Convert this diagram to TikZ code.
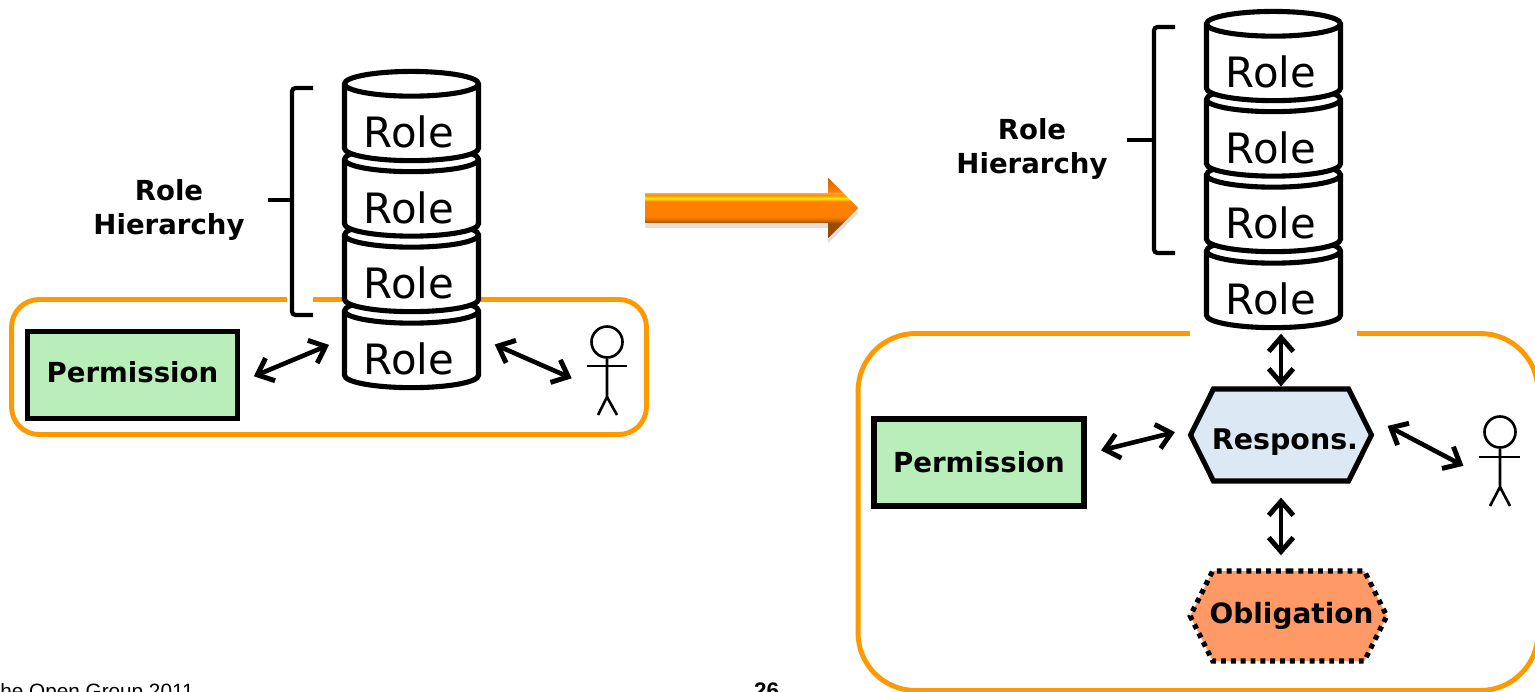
\documentclass[tikz,border=0pt]{standalone}
\usepackage{xcolor}
\usepackage{fontspec}
\setmainfont{DejaVu Sans}
\newfontfamily\footfont{Liberation Sans}
\usetikzlibrary{shapes.geometric, shapes.symbols, shapes.arrows, shadows, arrows.meta}
\definecolor{frameorange}{HTML}{FF9900}
\definecolor{permgreen}{HTML}{B9EDB9}
\definecolor{dutyblue}{HTML}{DCE8F3}
\definecolor{obligorange}{HTML}{FF9966}
\pgfdeclareverticalshading{goldbar}{100bp}{
 color(0bp)=(orange!60!black);
 color(25bp)=(orange!60!black);
 color(37.5bp)=(orange!60!black);
 color(40bp)=(orange!85!black);
 color(43bp)=(orange);
 color(55.5bp)=(orange);
 color(58bp)=(yellow!85!orange);
 color(60.5bp)=(orange!90!yellow);
 color(62.5bp)=(orange!70!white);
 color(63.5bp)=(orange);
 color(75bp)=(orange!80!black);
 color(100bp)=(orange!80!black)}
\tikzset{
 role/.style={draw, fill=white, line width=2.9pt, cylinder, shape border rotate=90, shape aspect=0.26,
  minimum width=2.68cm, minimum height=1.7cm, inner sep=0pt, text height=0.98cm,
  execute at end node=\kern0.1cm, font=\fontsize{23.8}{27}\selectfont},
 perm/.style={draw, fill=permgreen, line width=3pt, minimum width=4.2cm, minimum height=1.74cm, inner sep=0pt, font=\fontsize{15.7}{18}\selectfont\bfseries},
 duty/.style={draw, fill=dutyblue, line width=2.9pt, signal, signal to=west and east, signal pointer angle=127,
  minimum height=1.84cm, inner ysep=0pt, inner xsep=-0.19cm, text height=0.68cm,
  execute at begin node=\kern0.16cm, font=\fontsize{16.2}{18}\selectfont\bfseries},
 oblig/.style={draw, fill=obligorange, line width=2.9pt, dash pattern=on 2.8pt off 2.8pt, signal, signal to=west and east, signal pointer angle=127,
  minimum height=1.8cm, inner ysep=0pt, inner xsep=-0.18cm,
  execute at begin node=\kern0.12cm, font=\fontsize{15.9}{18}\selectfont\bfseries},
 frame/.style={draw=frameorange, line width=2.8pt, rectangle, inner sep=0pt},
 caption/.style={align=center, font=\fontsize{15.7}{18.8}\selectfont\bfseries},
 curly/.style={line width=2.4pt, rounded corners=2pt},
 link/.style={{Straight Barb[length=8pt,width=14pt,line width=2.8pt]}-{Straight Barb[length=8pt,width=14pt,line width=2.8pt]}, line width=2.6pt},
 stick/.style={line width=1.5pt},
 head/.style={draw, circle, line width=1.5pt, minimum size=0.62cm, inner sep=0pt}
}

\begin{document}
\begin{tikzpicture}[x=0.02cm, y=-0.02cm]
 \clip[use as bounding box] (0,0) rectangle (1535,692);

 \node[frame, minimum width=12.7cm, minimum height=2.7cm, rounded corners=0.55cm] (frameA) at (329,367) {};
 \node[frame, minimum width=13.6cm, minimum height=7.14cm, rounded corners=1.15cm] (frameB) at (1198,512) {};
 \fill[white] (287,290) rectangle (313,310);
 \fill[white] (1190,322) rectangle (1357,342);

 \node[role] (roleD) at (411.5,350.5) {Role};
 \node[role] (roleC) at (411.5,274.5) {Role};
 \node[role] (roleB) at (411.5,199) {Role};
 \node[role] (roleA) at (411.5,123.5) {Role};

 \node[role] (roleH) at (1273.5,290.5) {Role};
 \node[role] (roleG) at (1273.5,214.5) {Role};
 \node[role] (roleF) at (1273.5,139) {Role};
 \node[role] (roleE) at (1273.5,63.5) {Role};

 \node[caption] (captionA) at (169,210) {Role\\Hierarchy};
 \node[caption] (captionB) at (1032,149) {Role\\Hierarchy};

 \coordinate (braceAtop) at (313,88);
 \coordinate (braceAmid) at (292,200);
 \coordinate (braceAtip) at (268,200);
 \coordinate (braceAbot) at (313,315);
 \coordinate (braceBtop) at (1175,27);
 \coordinate (braceBmid) at (1154,140);
 \coordinate (braceBtip) at (1127,140);
 \coordinate (braceBbot) at (1175,253);
 \draw[curly] (braceAtop) -- (292,88) -- (292,315) -- (braceAbot);
 \draw[curly] (braceAtip) -- (braceAmid);
 \draw[curly] (braceBtop) -- (1154,27) -- (1154,253) -- (braceBbot);
 \draw[curly] (braceBtip) -- (braceBmid);

 \node[perm, text depth=0.12cm] (permA) at (132.5,375) {Permission};
 \node[perm] (permB) at (979,462.5) {Permission};
 \node[duty] (respons) at (1281,435) {Respons.};
 \node[oblig] (obligation) at (1288.5,616) {Obligation};

 \node[head] (headA) at (607,342) {};
 \draw[stick] (headA.south) -- (607,397) -- (598,415);
 \draw[stick] (607,397) -- (617,415);
 \draw[stick] (587,366) -- (627,366);

 \node[head] (headB) at (1500,432) {};
 \draw[stick] (headB.south) -- (1500,487) -- (1490,506);
 \draw[stick] (1500,487) -- (1510,506);
 \draw[stick] (1479,457) -- (1520,457);

 \coordinate (actorA) at (587,385);
 \coordinate (actorB) at (1479,474);
 \draw[link, shorten <=8.5pt, shorten >=8pt] ([yshift=-0.14cm]permA.east) -- ([yshift=0.22cm]roleD.west);
 \draw[link, shorten <=8.5pt, shorten >=9.5pt] ([yshift=0.24cm]roleD.east) -- (actorA);
 \draw[link, shorten >=2pt] (respons.north) -- (respons.north |- roleH.south);
 \draw[link, shorten <=8.5pt, shorten >=7.5pt] ([yshift=0.17cm]permB.east) -- ([yshift=0.12cm]respons.west);
 \draw[link, shorten <=8.5pt, shorten >=10pt] ([yshift=0.32cm]respons.east) -- (actorB);
 \draw[link, shorten <=8pt, shorten >=7.5pt] (respons.south) -- (respons.south |- obligation.north);

 \node[single arrow, shading=goldbar, drop shadow={shadow xshift=0pt, shadow yshift=-3pt, opacity=0.25}, single arrow head extend=0.31cm,
  single arrow tip angle=90, inner ysep=0.29cm, inner xsep=0pt, minimum height=4.26cm] (morph) at (744.5,208) {};

 \node[anchor=base west, inner sep=0pt, font=\fontsize{11.8}{14}\selectfont\footfont] (copyright) at (0,698) {he Open Group 2011};
 \node[anchor=base, inner sep=0pt, font=\fontsize{12.8}{15}\selectfont\footfont\bfseries] (pagenum) at (766.5,698) {26};
\end{tikzpicture}
\end{document}
